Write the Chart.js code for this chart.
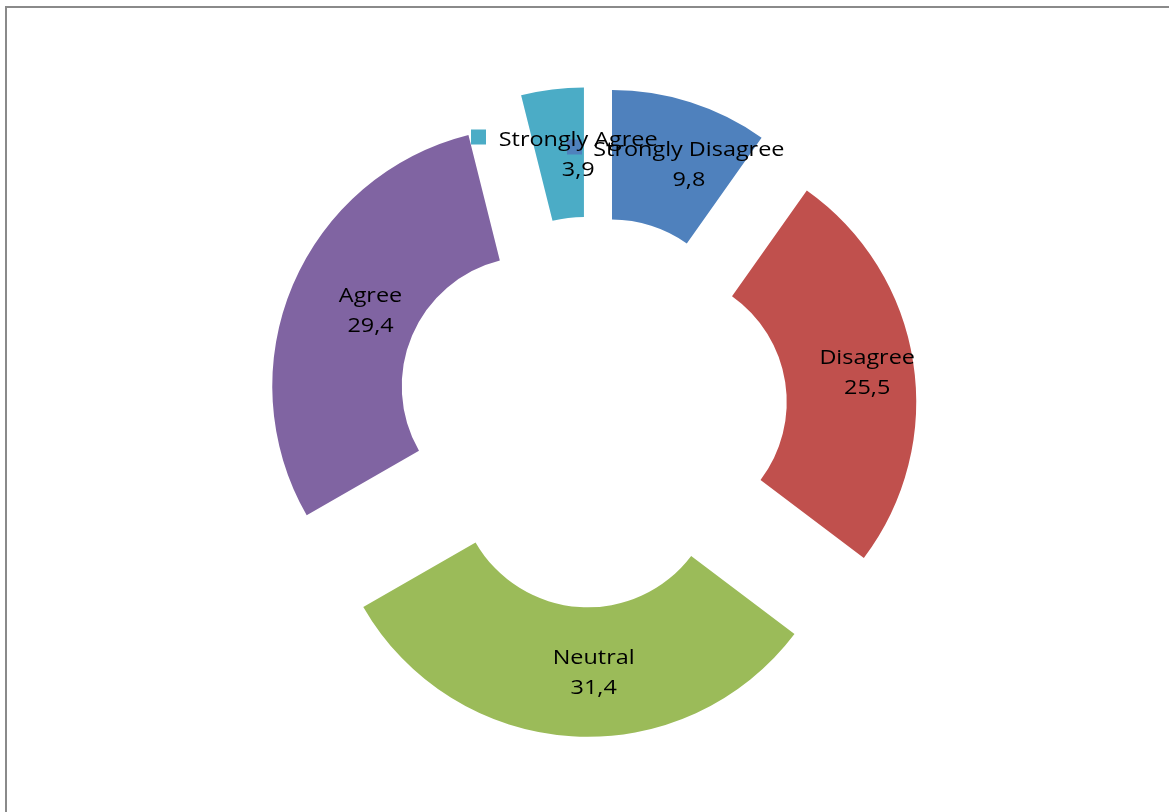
<!DOCTYPE html>
<html>
<head>
<meta charset="utf-8">
<script src="https://cdn.jsdelivr.net/npm/chart.js@4/dist/chart.umd.min.js"></script>
<style>
  html,body{margin:0;padding:0;background:#fff;overflow:hidden;}
  #frame{position:absolute;left:5px;top:6px;width:1400px;height:1000px;
         border:2px solid #8a8a8a;box-sizing:border-box;}
  #c{position:absolute;left:0;top:0;}
</style>
</head>
<body>
<div id="frame"></div>
<canvas id="c" width="1169" height="812"></canvas>
<script>
/* ---------- datos ---------- */
const categories = ['Strongly Disagree','Disagree','Neutral','Agree','Strongly Agree'];
const values     = [9.8, 25.5, 31.4, 29.4, 3.9];
const colors     = ['#4F81BD','#C0504D','#9BBB59','#8064A2','#4BACC6'];

/* ---------- estilo ---------- */
const EXPLODE  = 66;           // desplazamiento de cada porcion (px)
const NUDGE_X  = 18;           // etiquetas algo a la derecha, como en el original
const FONT     = '20px "Open Sans"';
const STRETCH  = 1.17;         // texto tipo Calibri ensanchado

const fmt = v => v.toFixed(1).replace('.', ',');

/* porciones separadas del centro */
const explode = {
  id:'explode',
  beforeDatasetDraw(chart, args){
    const ctx = chart.ctx;
    args.meta.data.forEach(arc=>{
      const {startAngle,endAngle} = arc.getProps(['startAngle','endAngle'], true);
      const mid = (startAngle+endAngle)/2;
      ctx.save();
      ctx.translate(Math.cos(mid)*EXPLODE, Math.sin(mid)*EXPLODE);
      arc.draw(ctx, chart.chartArea);
      ctx.restore();
    });
    return false;
  }
};

/* leyenda (cuadros) + etiquetas de datos */
const labelsPlugin = {
  id:'dataLabels',
  afterDatasetsDraw(chart){
    const ctx  = chart.ctx;
    const meta = chart.getDatasetMeta(0);

    // cuadros de la leyenda, tapados casi por completo por las etiquetas
    ctx.save();
    ctx.fillStyle = colors[4]; ctx.fillRect(471,129.5,15,15);
    ctx.fillStyle = colors[0]; ctx.fillRect(567,139.5,15,15);
    ctx.restore();

    ctx.save();
    ctx.font = FONT;
    ctx.fillStyle = '#000';
    ctx.textAlign = 'center';
    ctx.textBaseline = 'alphabetic';
    meta.data.forEach((arc,i)=>{
      const {startAngle,endAngle} = arc.getProps(['startAngle','endAngle'], true);
      const mid = (startAngle+endAngle)/2;
      const p = arc.tooltipPosition(true);
      const x = p.x + Math.cos(mid)*EXPLODE + NUDGE_X;
      const y = p.y + Math.sin(mid)*EXPLODE;
      [[categories[i], y-8], [fmt(values[i]), y+22]].forEach(([t,ty])=>{
        ctx.save();
        ctx.translate(x, ty);
        ctx.scale(STRETCH, 1);
        ctx.fillText(t, 0, 0);
        ctx.restore();
      });
    });
    ctx.restore();
  }
};

new Chart(document.getElementById('c'),{
  type:'doughnut',
  data:{
    labels:categories,
    datasets:[{data:values, backgroundColor:colors, borderWidth:0, hoverOffset:0}]
  },
  options:{
    responsive:false,
    animation:false,
    radius:259,
    cutout:'50%',
    layout:{padding:{left:15, top:12}},
    plugins:{legend:{display:false}, tooltip:{enabled:false}}
  },
  plugins:[explode, labelsPlugin]
});
</script>
</body>
</html>
